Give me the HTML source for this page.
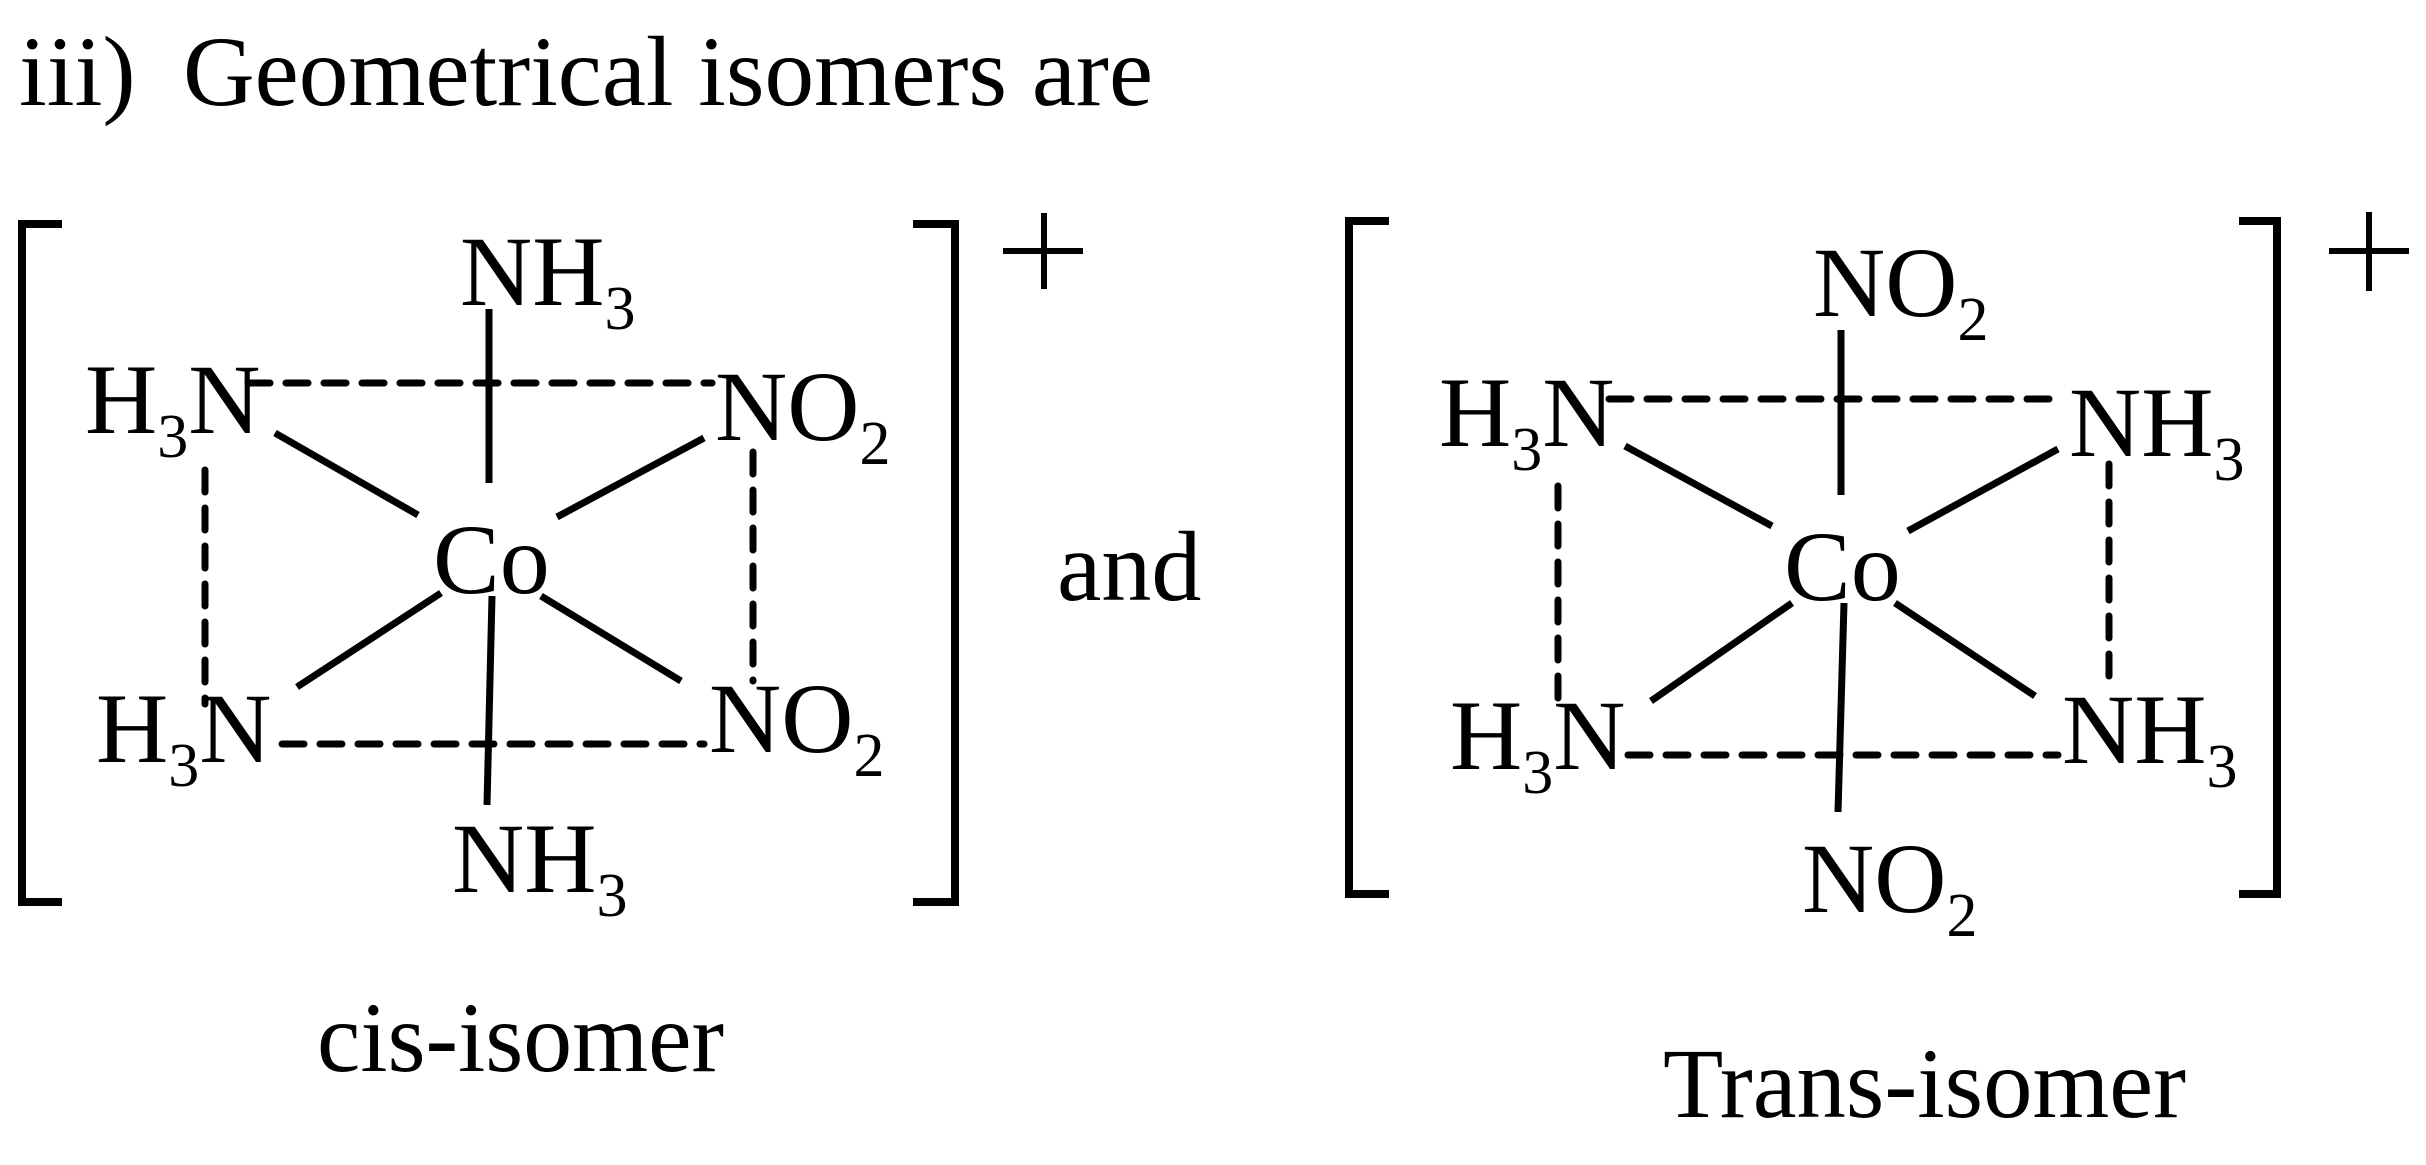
<!DOCTYPE html>
<html><head><meta charset="utf-8"><style>
html,body{margin:0;padding:0;background:#fff;}
svg{display:block;}
text{font-family:"Liberation Serif",serif;fill:#000;font-size:100px;}
.s{font-size:62px;}
</style></head><body>
<svg width="2426" height="1165" viewBox="0 0 2426 1165" xmlns="http://www.w3.org/2000/svg">
<text x="19" y="105" font-size="104">iii)</text>
<text x="183" y="105" font-size="104" textLength="970" lengthAdjust="spacingAndGlyphs">Geometrical isomers are</text>

<g stroke="#000" fill="none" stroke-width="8" stroke-linecap="butt">
<polyline points="62,224 22,224 22,902 62,902"/>
<polyline points="913,224 955,224 955,902 913,902"/>
<line x1="1003" y1="251" x2="1083" y2="251" stroke-width="6"/>
<line x1="1044" y1="213" x2="1044" y2="289" stroke-width="6"/>
<g stroke-width="7">
<line x1="489" y1="309" x2="489" y2="483"/>
<line x1="275" y1="433" x2="418" y2="515"/>
<line x1="704" y1="438" x2="557" y2="517"/>
<line x1="441" y1="593" x2="297" y2="687"/>
<line x1="541" y1="596" x2="681" y2="681"/>
<line x1="492" y1="596" x2="487" y2="805"/>
</g>
<g stroke-width="7" stroke-dasharray="22,16" stroke-linecap="round">
<line x1="248" y1="383" x2="712" y2="383"/>
<line x1="205" y1="470" x2="205" y2="704"/>
<line x1="753" y1="452" x2="753" y2="681"/>
<line x1="282" y1="744" x2="704" y2="744"/>
</g>

<polyline points="1389,221 1349,221 1349,894 1389,894"/>
<polyline points="2239,221 2277,221 2277,894 2239,894"/>
<line x1="2329" y1="251" x2="2409" y2="251" stroke-width="6"/>
<line x1="2369" y1="212" x2="2369" y2="291" stroke-width="6"/>
<g stroke-width="7">
<line x1="1841" y1="330" x2="1841" y2="495"/>
<line x1="1625" y1="446" x2="1772" y2="526"/>
<line x1="2058" y1="449" x2="1908" y2="531"/>
<line x1="1792" y1="603" x2="1651" y2="701"/>
<line x1="1895" y1="603" x2="2035" y2="696"/>
<line x1="1844" y1="603" x2="1838" y2="812"/>
</g>
<g stroke-width="7" stroke-dasharray="22,16" stroke-linecap="round">
<line x1="1609" y1="399" x2="2065" y2="399"/>
<line x1="1558" y1="486" x2="1558" y2="712"/>
<line x1="2109" y1="464" x2="2109" y2="688"/>
<line x1="1628" y1="755" x2="2058" y2="755"/>
</g>
</g>

<text x="460" y="305">NH<tspan class="s" dy="24">3</tspan></text>
<text x="85" y="433">H<tspan class="s" dy="24">3</tspan><tspan dy="-24">N</tspan></text>
<text x="715" y="440">NO<tspan class="s" dy="24">2</tspan></text>
<text x="433" y="593">Co</text>
<text x="96" y="762">H<tspan class="s" dy="24">3</tspan><tspan dy="-24">N</tspan></text>
<text x="709" y="752">NO<tspan class="s" dy="24">2</tspan></text>
<text x="452" y="892">NH<tspan class="s" dy="24">3</tspan></text>
<text x="1057" y="600">and</text>
<text x="317" y="1071" textLength="407" lengthAdjust="spacingAndGlyphs">cis-isomer</text>

<text x="1813" y="316">NO<tspan class="s" dy="24">2</tspan></text>
<text x="1439" y="446">H<tspan class="s" dy="24">3</tspan><tspan dy="-24">N</tspan></text>
<text x="2069" y="456">NH<tspan class="s" dy="24">3</tspan></text>
<text x="1784" y="600">Co</text>
<text x="1450" y="769">H<tspan class="s" dy="24">3</tspan><tspan dy="-24">N</tspan></text>
<text x="2062" y="763">NH<tspan class="s" dy="24">3</tspan></text>
<text x="1802" y="912">NO<tspan class="s" dy="24">2</tspan></text>
<text x="1663" y="1117" textLength="523" lengthAdjust="spacingAndGlyphs">Trans-isomer</text>
</svg>
</body></html>
